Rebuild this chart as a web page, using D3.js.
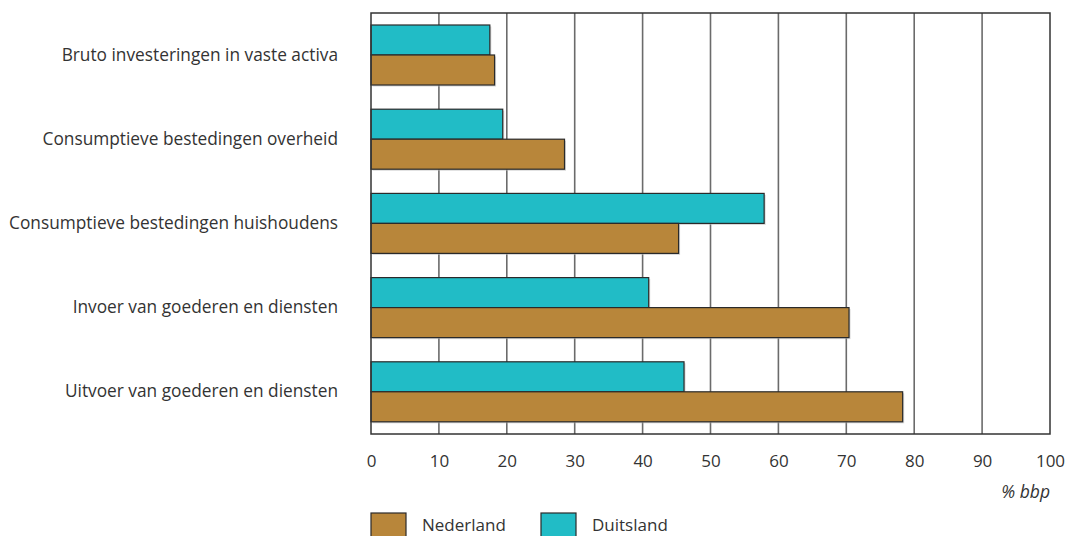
<!DOCTYPE html>
<html><head><meta charset="utf-8">
<script src="https://cdn.jsdelivr.net/npm/d3@7"></script>
<style>
body{margin:0;background:#fff;}
text{font-family:"Open Sans","Noto Sans",sans-serif;fill:#333;}
</style></head>
<body><svg id="c" width="1065" height="536"></svg>
<script>
const categories = ["Bruto investeringen in vaste activa","Consumptieve bestedingen overheid","Consumptieve bestedingen huishoudens","Invoer van goederen en diensten","Uitvoer van goederen en diensten"];
const duitsland = [17.5, 19.4, 57.9, 40.9, 46.1];
const nederland = [18.2, 28.5, 45.3, 70.4, 78.3];
const ticks = [0,10,20,30,40,50,60,70,80,90,100];
const seriesNames = ["Nederland","Duitsland"];
const colors = {Nederland:"#b8863a", Duitsland:"#21bcc6"};

const svg = d3.select("#c");
const L=371, R=1050, T=13, B=434;
const x = d3.scaleLinear().domain([0,100]).range([L,R]);
const y = d3.scaleBand().domain(categories).range([T,B]).paddingInner(0).paddingOuter(0);

// gridlines
svg.append("g").selectAll("line").data(ticks.slice(1,-1)).join("line")
  .attr("x1",d=>x(d)).attr("x2",d=>x(d)).attr("y1",T).attr("y2",B)
  .attr("stroke","#6b6b6b").attr("stroke-width",1.6);

const barH = y.bandwidth()*(60/84.2)/2;
const off = y.bandwidth()*(12/84.2);

const g = svg.append("g");
categories.forEach((c,i)=>{
  [["Duitsland",duitsland[i],0],["Nederland",nederland[i],1]].forEach(([s,v,k])=>{
    g.append("rect").attr("x",x(0)+1.5).attr("y",y(c)+off+k*barH+1.5)
      .attr("width",x(v)-x(0)).attr("height",barH).attr("fill","#bbb").attr("opacity",0.6);
    g.append("rect").attr("x",x(0)).attr("y",y(c)+off+k*barH)
      .attr("width",x(v)-x(0)).attr("height",barH)
      .attr("fill",colors[s]).attr("stroke","#2a2a2a").attr("stroke-width",1.2);
  });
});

// frame
svg.append("rect").attr("x",L).attr("y",T).attr("width",R-L).attr("height",B-T)
  .attr("fill","none").attr("stroke","#333").attr("stroke-width",1.5);

// x axis labels
const xa = svg.append("g").attr("transform",`translate(0,${B})`)
  .call(d3.axisBottom(x).tickValues(ticks).tickSize(0).tickPadding(21));
xa.select(".domain").remove();
xa.selectAll("text").style("font-size","17px").attr("fill","#333").style("font-family","'Open Sans','Noto Sans',sans-serif");

// y labels
const ya = svg.append("g").attr("transform",`translate(${L},0)`)
  .call(d3.axisLeft(y).tickSize(0).tickPadding(33));
ya.select(".domain").remove();
ya.selectAll("text").style("font-size","17.3px").attr("fill","#333").style("font-family","'Open Sans','Noto Sans',sans-serif");

svg.append("text").attr("x",R).attr("y",498).attr("text-anchor","end")
  .style("font-size","17.5px").style("font-style","italic").text("% bbp");

// legend
const leg = [{n:"Nederland",x:371},{n:"Duitsland",x:541}];
leg.forEach(d=>{
  svg.append("rect").attr("x",d.x).attr("y",513).attr("width",35).attr("height",26)
    .attr("fill",colors[d.n]).attr("stroke","#2a2a2a").attr("stroke-width",1.2);
  svg.append("text").attr("x",d.x+51).attr("y",531).style("font-size","17px").text(d.n);
});
</script></body></html>
